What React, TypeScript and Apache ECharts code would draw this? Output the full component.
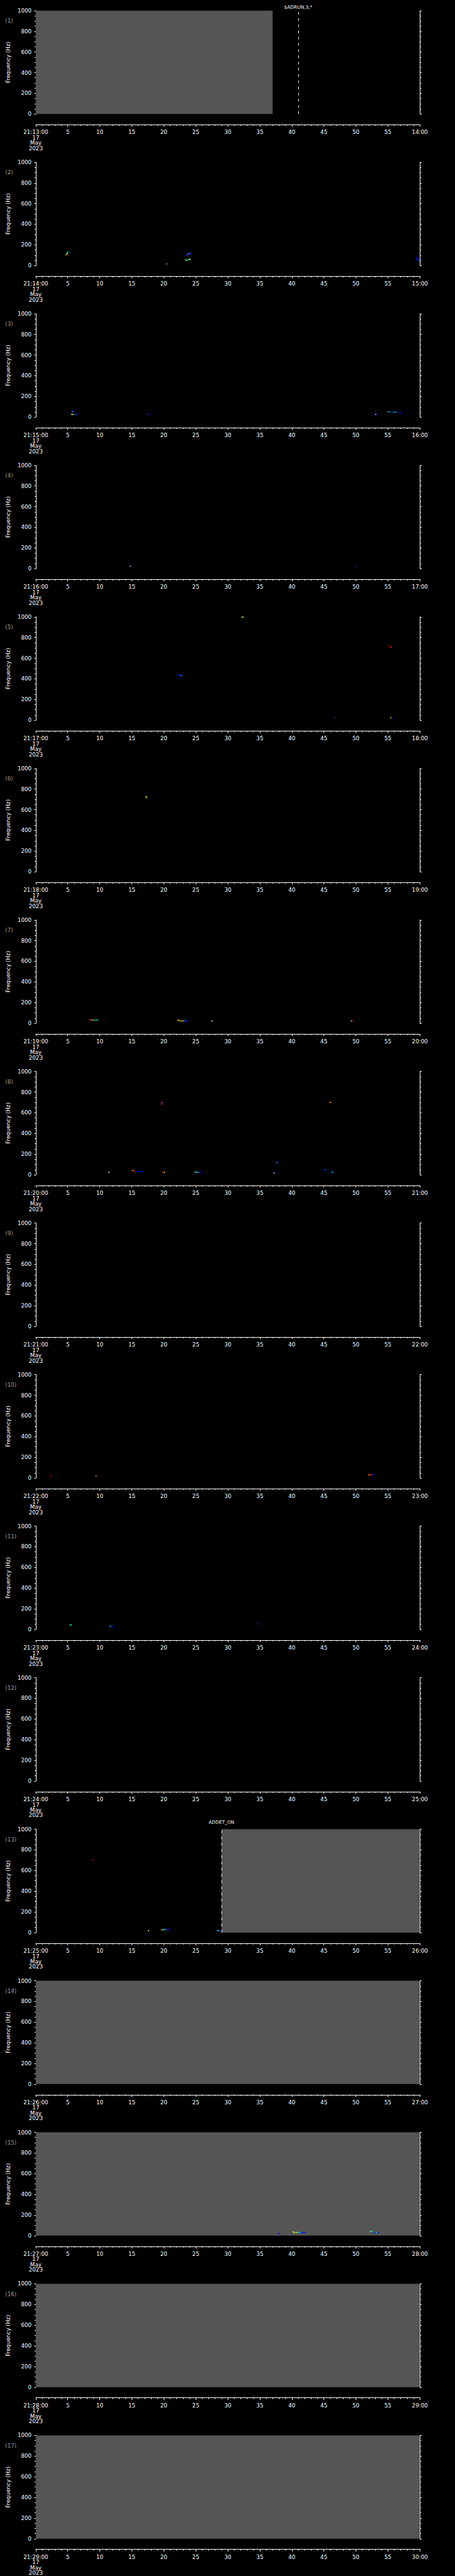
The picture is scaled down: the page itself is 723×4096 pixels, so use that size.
import React, { useEffect, useRef } from "react";
import * as echarts from "echarts";

// ---------- data ----------
const panelStarts = [
  "21:13:00", "21:14:00", "21:15:00", "21:16:00", "21:17:00", "21:18:00",
  "21:19:00", "21:20:00", "21:21:00", "21:22:00", "21:23:00", "21:24:00",
  "21:25:00", "21:26:00", "21:27:00", "21:28:00", "21:29:00",
];
const panelEnds = [
  "14:00", "15:00", "16:00", "17:00", "18:00", "19:00", "20:00", "21:00",
  "22:00", "23:00", "24:00", "25:00", "26:00", "27:00", "28:00", "29:00", "30:00",
];
const dateLines = ["17", "May", "2023"];
const panelNames = ["(1)", "(2)", "(3)", "(4)", "(5)", "(6)", "(7)", "(8)", "(9)", "(10)", "(11)", "(12)", "(13)", "(14)", "(15)", "(16)", "(17)"];
const secondsSpan = [0, 60];
const freqSpan = [0, 1000];

// no-data (gray) intervals: [panel index, start s, end s]
const grayBands = [
  [0, 0, 37],
  [12, 29, 60],
  [13, 0, 60],
  [14, 0, 60],
  [15, 0, 60],
  [16, 0, 60],
];

// event markers: [panel index, seconds, label]
const eventMarkers: [number, number, string][] = [
  [0, 41, "$ADRUN,3,*"],
  [12, 29, "ADDET_ON"],
];

// spectral cells: [seconds, Hz, relative level 0..1]
const p01: number[][] = [];
const p02 = [
  [4.7, 103, 0.88], [4.8, 108, 0.62], [4.9, 115, 0.42], [4.95, 122, 0.38], [5.0, 130, 0.36],
  [20.45, 16, 0.62], [20.55, 16, 0.1],
  [23.55, 100, 0.15], [23.7, 108, 0.3], [23.85, 115, 0.2], [24.05, 117, 0.35], [24.2, 115, 0.15],
  [23.4, 54, 0.55], [23.6, 50, 0.45], [23.8, 58, 0.35], [24.0, 60, 0.62], [24.1, 60, 0.55],
  [59.4, 88, 0.1], [59.45, 70, 0.12], [59.5, 58, 0.2], [59.7, 55, 0.15], [59.9, 52, 0.2],
];
const p03 = [
  [5.6, 26, 0.62], [5.8, 26, 0.6], [6.1, 26, 0.25], [6.4, 26, 0.2], [5.7, 53, 0.2], [5.85, 55, 0.25],
  [17.55, 26, 0.2], [17.75, 26, 0.12],
  [53.1, 26, 0.65], [53.25, 26, 0.15],
  [55.0, 53, 0.35], [55.3, 50, 0.3], [55.6, 49, 0.15], [55.9, 50, 0.3], [56.2, 47, 0.35], [56.5, 46, 0.2], [56.8, 42, 0.15], [57.0, 40, 0.1],
];
const p04 = [
  [14.75, 23, 0.62], [14.85, 23, 0.15],
  [49.95, 23, 0.15],
];
const p05 = [
  [32.25, 997, 0.62], [32.4, 997, 0.42],
  [55.2, 716, 0.9], [55.4, 710, 0.9], [55.55, 705, 0.9],
  [22.2, 437, 0.15], [22.4, 437, 0.15], [22.6, 434, 0.2], [22.75, 432, 0.3],
  [46.8, 24, 0.15],
  [55.45, 24, 0.62], [55.6, 24, 0.15],
];
const p06 = [
  [17.2, 727, 0.62], [17.3, 718, 0.62],
];
const p07 = [
  [8.4, 35, 0.9], [8.6, 35, 0.85], [8.8, 31, 0.5], [9.1, 31, 0.45], [9.4, 31, 0.4], [9.65, 31, 0.3],
  [22.2, 30, 0.65], [22.4, 27, 0.7], [22.6, 22, 0.62], [22.9, 22, 0.58], [23.1, 24, 0.3], [23.3, 24, 0.2], [23.5, 21, 0.15], [23.7, 21, 0.1],
  [27.5, 21, 0.15], [27.55, 21, 0.62],
  [49.3, 21, 0.62], [49.4, 21, 0.85],
];
const p08 = [
  [19.6, 700, 0.9], [19.65, 690, 0.9], [19.65, 681, 0.9], [19.85, 701, 0.2],
  [46.0, 700, 0.65], [46.15, 700, 0.9],
  [11.3, 24, 0.15], [11.45, 24, 0.62],
  [15.1, 43, 0.65], [15.3, 36, 0.85], [15.5, 32, 0.9], [15.8, 30, 0.1], [16.1, 30, 0.1], [16.4, 30, 0.1], [16.7, 30, 0.12],
  [19.8, 24, 0.85], [19.95, 24, 0.1], [20.1, 24, 0.62],
  [24.9, 27, 0.48], [25.1, 24, 0.38], [25.3, 24, 0.3], [25.55, 21, 0.2], [25.8, 18, 0.12],
  [37.2, 17, 0.62], [37.35, 17, 0.15],
  [37.5, 120, 0.15], [37.7, 118, 0.3],
  [45.1, 49, 0.15], [45.25, 49, 0.2],
  [46.15, 24, 0.15], [46.35, 24, 0.35],
];
const p09: number[][] = [];
const p10 = [
  [2.35, 21, 0.9],
  [9.4, 21, 0.75], [9.6, 21, 0.15],
  [52.0, 30, 0.75], [52.2, 30, 0.9], [52.4, 30, 0.8], [52.6, 30, 0.15], [52.75, 30, 0.1],
];
const p11 = [
  [5.35, 44, 0.35], [5.5, 44, 0.4],
  [11.6, 31, 0.35], [11.8, 28, 0.2], [12.0, 27, 0.15],
  [34.7, 54, 0.2],
];
const p12: number[][] = [];
const p13 = [
  [8.9, 700, 0.9], [9.0, 700, 0.1],
  [17.6, 18, 0.58],
  [19.6, 28, 0.85], [19.75, 25, 0.5], [20.0, 30, 0.4], [20.2, 29, 0.3], [20.45, 28, 0.2], [20.7, 28, 0.15], [20.9, 28, 0.1],
  [28.4, 20, 0.45], [28.6, 17, 0.3], [28.8, 15, 0.15],
];
const p14: number[][] = [];
const p15 = [
  [37.8, 20, 0.9], [37.95, 20, 0.1],
  [40.2, 37, 0.62], [40.4, 30, 0.62], [40.7, 30, 0.55], [41.0, 32, 0.4], [41.2, 30, 0.3], [41.4, 27, 0.15], [41.7, 30, 0.1], [42.0, 30, 0.12],
  [52.3, 43, 0.45], [52.5, 38, 0.4], [52.7, 28, 0.15], [53.0, 30, 0.2], [53.25, 30, 0.3], [53.5, 28, 0.1],
];
const p16: number[][] = [];
const p17: number[][] = [];
const panelPoints = [p01, p02, p03, p04, p05, p06, p07, p08, p09, p10, p11, p12, p13, p14, p15, p16, p17];

// ---------- layout / style ----------
const S = 723 / 1024;
const PITCH = 341.29;
const FONT = "DejaVu Sans";
const jet = ["#00008f", "#0000ff", "#0040ff", "#00c0ff", "#00ffff", "#80ff80", "#ffff00", "#ffc000", "#ff4000", "#ff0000", "#a00000"];
const markerLabelGap: Record<string, number> = { "$ADRUN,3,*": 2, ADDET_ON: 8 };

function buildOption() {
  const grid: any[] = [];
  const xAxis: any[] = [];
  const yAxis: any[] = [];
  const series: any[] = [];
  const graphic: any[] = [];
  const tickFont = 12.4 * S;

  for (let i = 0; i < panelStarts.length; i++) {
    const top = (24 + PITCH * i) * S;
    grid.push({ left: 80.5 * S, top, width: 864.5 * S, height: 232.7 * S });

    xAxis.push({
      gridIndex: i,
      type: "value",
      min: secondsSpan[0],
      max: secondsSpan[1],
      interval: 5,
      offset: 24 * S,
      axisLine: { show: true, onZero: false, lineStyle: { color: "#fff", width: 1 } },
      axisTick: { show: true, length: 4.7 * S, lineStyle: { color: "#fff", width: 1 } },
      minorTick: { show: true, splitNumber: 5, length: 2.7 * S, lineStyle: { color: "#fff", width: 1 } },
      splitLine: { show: false },
      axisLabel: {
        show: true,
        showMinLabel: true,
        showMaxLabel: true,
        color: "#fff",
        fontFamily: FONT,
        fontSize: tickFont,
        lineHeight: 12 * S,
        margin: 8,
        formatter: (v: number) => {
          if (v === secondsSpan[0]) return [panelStarts[i], ...dateLines].join("\n");
          if (v === secondsSpan[1]) return panelEnds[i];
          return String(v);
        },
      },
    });

    yAxis.push({
      gridIndex: i,
      type: "value",
      position: "left",
      min: freqSpan[0],
      max: freqSpan[1],
      interval: 200,
      name: "Frequency (Hz)",
      nameLocation: "middle",
      nameRotate: 90,
      nameGap: 36,
      nameTextStyle: { color: "#fff", fontFamily: FONT, fontSize: tickFont },
      axisLine: { show: true, lineStyle: { color: "#fff", width: 1 } },
      axisTick: { show: true, length: 3.7 * S, lineStyle: { color: "#fff", width: 1 } },
      minorTick: { show: true, splitNumber: 4, length: 2.7 * S, lineStyle: { color: "#fff", width: 1 } },
      splitLine: { show: false },
      axisLabel: {
        color: "#fff",
        fontFamily: FONT,
        fontSize: tickFont,
        margin: 9.5 * S,
        showMinLabel: true,
        showMaxLabel: true,
        formatter: (v: number) => String(v),
      },
    });
    yAxis.push({
      gridIndex: i,
      type: "value",
      position: "right",
      min: freqSpan[0],
      max: freqSpan[1],
      interval: 200,
      axisLine: { show: true, lineStyle: { color: "#fff", width: 1 } },
      axisTick: { show: true, length: 4.2 * S, lineStyle: { color: "#fff", width: 1 } },
      minorTick: { show: true, splitNumber: 4, length: 3 * S, lineStyle: { color: "#fff", width: 1 } },
      splitLine: { show: false },
      axisLabel: { show: false },
    });

    const bands = grayBands
      .filter((b) => b[0] === i)
      .map((b) => [{ xAxis: b[1] }, { xAxis: b[2] }]);
    const markers = eventMarkers.filter((m) => m[0] === i);

    const s: any = {
      type: "scatter",
      xAxisIndex: i,
      yAxisIndex: 2 * i,
      data: panelPoints[i],
      symbol: "rect",
      symbolSize: [2, 2],
      z: 3,
      silent: true,
    };
    if (bands.length) {
      s.markArea = {
        silent: true,
        itemStyle: { color: "#555555", opacity: 1, borderWidth: 0 },
        label: { show: false },
        data: bands,
      };
    }
    if (markers.length) {
      s.markLine = {
        silent: true,
        symbol: ["none", "none"],
        lineStyle: { color: "#fff", type: [5.7 * S, 8.3 * S], width: 1, opacity: 1 },
        label: {
          show: true,
          position: "end",
          color: "#fff",
          fontFamily: FONT,
          fontSize: 10.5 * S,
          formatter: (p: any) => p.name,
        },
        data: markers.map((m) => ({
          xAxis: m[1],
          name: m[2],
          label: { distance: markerLabelGap[m[2]] ?? 4 },
        })),
      };
    }
    series.push(s);

    graphic.push({
      type: "text",
      x: 11.7 * S,
      y: top + 23 * S,
      style: {
        text: panelNames[i],
        fill: "#9c9c9c",
        fontFamily: FONT,
        fontSize: tickFont,
        align: "left",
        verticalAlign: "middle",
      },
    });
  }

  return {
    animation: false,
    backgroundColor: "#000",
    grid,
    xAxis,
    yAxis,
    series,
    graphic,
    visualMap: {
      type: "continuous",
      show: false,
      dimension: 2,
      min: 0,
      max: 1,
      seriesIndex: series.map((_, k) => k),
      inRange: { color: jet },
    },
  };
}

export default function App() {
  const ref = useRef<HTMLDivElement>(null);
  useEffect(() => {
    document.body.style.margin = "0";
    document.body.style.background = "#000";
    document.documentElement.style.background = "#000";
    if (!ref.current) return;
    const chart = echarts.init(ref.current, undefined, { renderer: "svg" });
    chart.setOption(buildOption());
    return () => chart.dispose();
  }, []);
  return <div ref={ref} style={{ width: 723, height: 4096, background: "#000" }} />;
}
